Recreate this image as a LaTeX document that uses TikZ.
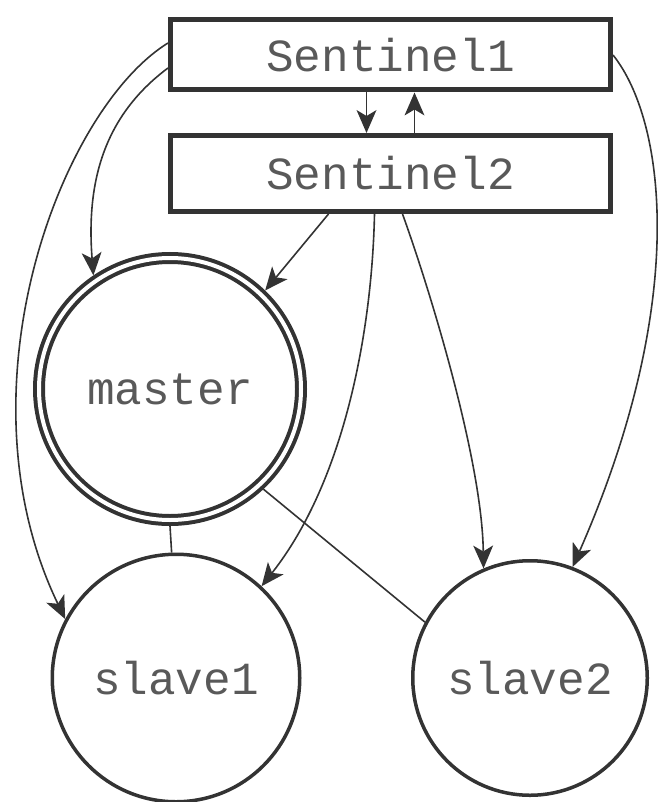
\documentclass[tikz,border=0pt]{standalone}
\usepackage{fontspec}
\setmonofont{Liberation Mono}
\usepackage{tikz}
\usetikzlibrary{positioning, arrows.meta}

\tikzset{
  sentinel box/.style={draw, line width=5pt, minimum width=440pt, minimum height=70pt,
    text=black!65, font=\ttfamily\fontsize{46}{50}\selectfont},
  server/.style={circle, draw, line width=3.5pt, inner sep=0pt,
    text=black!65, font=\ttfamily\fontsize{46}{50}\selectfont},
  watch/.style={-{Stealth[length=23pt,width=20pt,inset=6pt,line width=0pt]}},
}

\begin{document}
\begin{tikzpicture}[x=1pt, y=-1pt, line width=1.6pt, color=black!80]

\useasboundingbox (0,0) rectangle (657,802);

% Sentinels
\node[sentinel box] (s1) at (390.5,55) {Sentinel1};
\node[sentinel box, minimum height=76pt] (s2) at (390.5,173.5) {Sentinel2};

% Redis servers
\node[server, double, double distance=4pt, line width=4pt, minimum size=262pt, outer sep=6pt] (master) at (170,389) {master};
\node[server, minimum size=247.5pt] (slave1) at (176,678) {slave1};
\node[server, minimum size=234.5pt] (slave2) at (530,678) {slave2};

% Sentinel1 <-> Sentinel2
\draw[watch] ([xshift=-24pt]s1.south) -- ([xshift=-24pt]s2.north);
\draw[watch] ([xshift=24pt]s2.north) -- ([xshift=24pt]s1.south);

% Sentinel1 watches the servers
\draw[watch] ([yshift=12pt]s1.west) .. controls (60,110) and (-45,390) .. (slave1.152);
\draw[watch] ([yshift=-13pt]s1.west) .. controls (105,115) and (86,180) .. (master.124);
\draw[watch] (s1.east) .. controls (665,120) and (690,300) .. (slave2.69);

% Sentinel2 watches the servers
\draw[watch] ([xshift=-62pt]s2.south) -- (master.46);
\draw[watch] ([xshift=-16pt]s2.south) .. controls (372,330) and (345,480) .. (slave1.47);
\draw[watch] ([xshift=12pt]s2.south) .. controls (430,290) and (482,460) .. (slave2.113);

% Replication links
\draw (master.south) -- (slave1.92);
\draw (master.-47) -- (slave2.152);

\end{tikzpicture}
\end{document}
